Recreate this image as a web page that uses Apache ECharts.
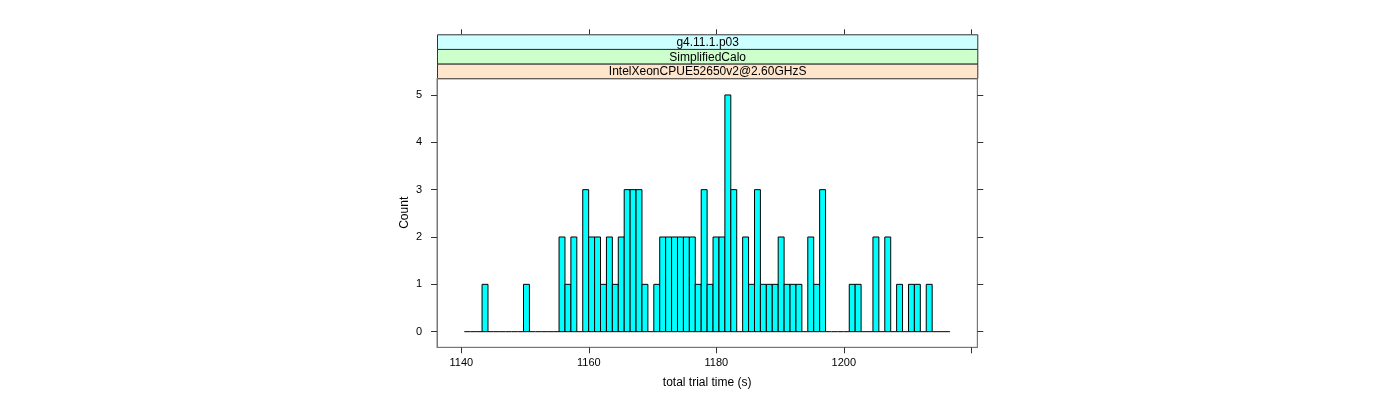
<!DOCTYPE html>
<html>
<head>
<meta charset="utf-8">
<script src="https://cdn.jsdelivr.net/npm/echarts@6/dist/echarts.min.js"></script>
<style>
html,body{margin:0;padding:0;background:#fff;}
#chart{width:1400px;height:400px;}
</style>
</head>
<body>
<div id="chart"></div>
<script>
// ---- data ----
var firstBreak = 1140.47;
var binWidth = 0.929;
var counts = [0,0,0,1,0,0,0,0,0,0, 1,0,0,0,0,0,2,1,2,0,
              3,2,2,1,2,1,2,3,3,3, 1,0,1,2,2,2,2,2,2,1,
              3,1,2,2,5,3,0,2,1,3, 1,1,1,2,1,1,1,0,2,1,
              3,0,0,0,0,1,1,0,0,2, 0,2,0,1,0,1,1,0,1,0,
              0,0];
var xTicks = [1140, 1160, 1180, 1200, 1220];
var xLabels = [1140, 1160, 1180, 1200];
var yTicks = [0, 1, 2, 3, 4, 5];
var stripLabels = ['g4.11.1.p03', 'SimplifiedCalo', 'IntelXeonCPUE52650v2@2.60GHzS'];
var stripColors = ['#ccffff', '#ccffcc', '#ffe5cc'];
var xTitle = 'total trial time (s)';
var yTitle = 'Count';

var bins = counts.map(function (c, i) {
  return [firstBreak + i * binWidth, firstBreak + (i + 1) * binWidth, c];
});

var chart = echarts.init(document.getElementById('chart'), null, {renderer: 'canvas'});
var font = 'Liberation Sans, Arial, Helvetica, sans-serif';
var gL = 437, gR = 977.3, gT = 78.3, gB = 347.3;
var stripH = (gT - 34.3) / 3;

var graphics = [];
for (var s = 0; s < stripLabels.length; s++) {
  graphics.push({
    type: 'group',
    left: gL, top: 34.3 + s * stripH,
    children: [
      {type: 'rect', shape: {x: 0, y: 0, width: gR - gL, height: stripH},
       style: {fill: stripColors[s], stroke: '#333', lineWidth: 1}},
      {type: 'text', x: (gR - gL) / 2, y: stripH / 2 + 0.5,
       style: {text: stripLabels[s], fill: '#000', font: '12px ' + font, align: 'center', verticalAlign: 'middle'}}
    ]
  });
}

var xMin = 1136.19, xMax = 1220.94, yMin = -0.33, yMax = 5.352;
var axisGray = '#777';
var plain = function (v) { return String(v); };

chart.setOption({
  animation: false,
  grid: {left: gL, right: 1400 - gR, top: gT, bottom: 400 - gB, show: true, borderColor: axisGray, borderWidth: 1},
  xAxis: [{
    type: 'value', min: xMin, max: xMax, position: 'bottom',
    name: xTitle, nameLocation: 'middle', nameGap: 29,
    nameTextStyle: {fontFamily: font, fontSize: 12, color: '#000'},
    axisLine: {show: true, onZero: false, lineStyle: {color: axisGray}},
    axisTick: {show: true, inside: false, length: 6, customValues: xTicks, lineStyle: {color: '#333'}},
    axisLabel: {show: true, customValues: xLabels, formatter: plain, margin: 10, fontFamily: font, fontSize: 11, color: '#000'},
    splitLine: {show: false}
  }, {
    type: 'value', min: xMin, max: xMax, position: 'top', offset: gT - 34.3,
    axisLine: {show: false, onZero: false},
    axisTick: {show: true, inside: false, length: 5, customValues: xTicks, lineStyle: {color: '#333'}},
    axisLabel: {show: false},
    splitLine: {show: false}
  }],
  yAxis: [{
    type: 'value', min: yMin, max: yMax, position: 'left',
    name: yTitle, nameLocation: 'middle', nameGap: 26, nameRotate: 90,
    nameTextStyle: {fontFamily: font, fontSize: 12, color: '#000'},
    axisLine: {show: true, onZero: false, lineStyle: {color: axisGray}},
    axisTick: {show: true, inside: false, length: 6, customValues: yTicks, lineStyle: {color: '#333'}},
    axisLabel: {show: true, customValues: yTicks, formatter: plain, margin: 15, fontFamily: font, fontSize: 11, color: '#000'},
    splitLine: {show: false}
  }, {
    type: 'value', min: yMin, max: yMax, position: 'right',
    axisLine: {show: true, onZero: false, lineStyle: {color: axisGray}},
    axisTick: {show: true, inside: false, length: 6, customValues: yTicks, lineStyle: {color: '#333'}},
    axisLabel: {show: false},
    splitLine: {show: false}
  }],
  graphic: graphics,
  series: [{
    type: 'custom',
    xAxisIndex: 0, yAxisIndex: 0,
    data: bins,
    clip: true,
    renderItem: function (params, api) {
      var x0 = api.value(0), x1 = api.value(1), c = api.value(2);
      var p0 = api.coord([x0, 0]);
      var p1 = api.coord([x1, c]);
      if (c === 0) {
        return {type: 'line', shape: {x1: p0[0], y1: p0[1], x2: p1[0], y2: p0[1]},
                style: {stroke: '#000', lineWidth: 1}};
      }
      return {type: 'rect',
              shape: {x: p0[0], y: p1[1], width: p1[0] - p0[0], height: p0[1] - p1[1]},
              style: {fill: '#00ffff', stroke: '#000', lineWidth: 1}};
    }
  }]
});
</script>
</body>
</html>
